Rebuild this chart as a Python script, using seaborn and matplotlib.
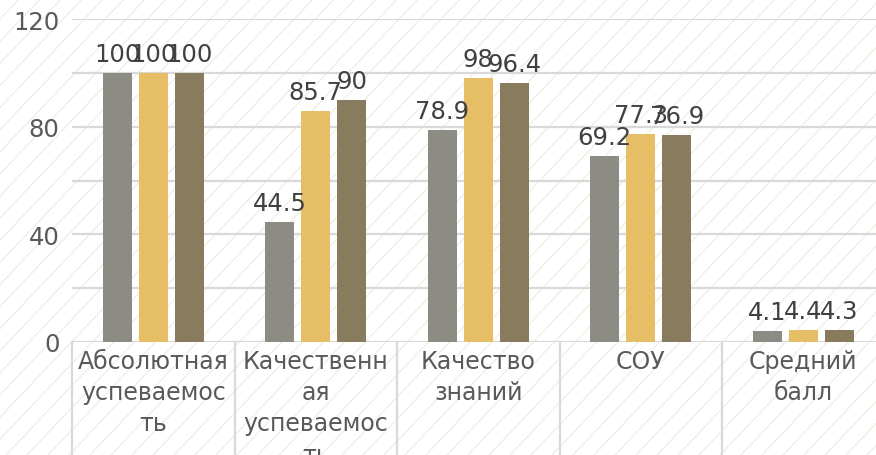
import matplotlib
matplotlib.use("Agg")
import matplotlib.pyplot as plt
from matplotlib.ticker import FixedLocator
import seaborn as sns
import pandas as pd
import numpy as np

categories = ["Абсолютная\nуспеваемос\nть", "Качественн\nая\nуспеваемос\nть",
              "Качество\nзнаний", "СОУ", "Средний\nбалл"]
series_names = ["Ряд 1", "Ряд 2", "Ряд 3"]
series1 = [100, 44.5, 78.9, 69.2, 4.1]
series2 = [100, 85.7, 98, 77.3, 4.4]
series3 = [100, 90, 96.4, 76.9, 4.3]
colors = ["#8C8C84", "#E5BE66", "#897B5E"]

rows = []
for name, vals in zip(series_names, [series1, series2, series3]):
    for c, v in zip(categories, vals):
        rows.append({"cat": c, "series": name, "val": v})
df = pd.DataFrame(rows)

sns.set_theme(style="white")
plt.rcParams['font.family'] = ['DejaVu Sans']

W, H = 876, 456
fig = plt.figure(figsize=(W / 100, H / 100), dpi=100)

# background diagonal hatching
bg = fig.add_axes([0, 0, 1, 1], zorder=-1)
bg.set_xlim(0, W)
bg.set_ylim(0, H)
bg.axis("off")
step = 21
for x0 in np.arange(-H, W + step, step):
    bg.plot([x0, x0 + H * 0.95], [0, H], color="#F1EFE4", lw=1.0, solid_capstyle="butt")

left = 72 / W
bottom = (H - 343) / H
top = (H - 20) / H
ax = fig.add_axes([left, bottom, 812.5 / W, top - bottom])
ax.set_facecolor("none")

sns.barplot(data=df, x="cat", y="val", hue="series", palette=colors,
            width=0.665, gap=0.19, saturation=1, legend=False, ax=ax, zorder=3,
            linewidth=0, edgecolor="none")

for cont, vals in zip(ax.containers, [series1, series2, series3]):
    ax.bar_label(cont, labels=[f"{v:g}" for v in vals], padding=5,
                 fontsize=17.5, color="#404040")

ax.set_xlim(-0.5, 4.5)
ax.set_ylim(0, 120)
ax.yaxis.set_major_locator(FixedLocator([0, 40, 80, 120]))
ax.yaxis.set_minor_locator(FixedLocator([20, 60, 100]))
ax.grid(True, axis="y", which="both", color="#D9D9D9", lw=1.6, zorder=0)
ax.set_axisbelow(True)
for s in ax.spines.values():
    s.set_visible(False)
ax.set_xlabel("")
ax.set_ylabel("")
ax.tick_params(axis="y", which="both", length=0, pad=9, labelsize=17.5, labelcolor="#595959")
ax.tick_params(axis="x", length=0, pad=5, labelsize=17, labelcolor="#595959")
for lab in ax.get_xticklabels():
    lab.set_linespacing(1.38)

for xs in [-0.5, 0.5, 1.5, 2.5, 3.5]:
    ax.plot([xs, xs], [0, -50], color="#D9D9D9", lw=1.6, clip_on=False, zorder=1)

fig.savefig("out.png", dpi=100)
